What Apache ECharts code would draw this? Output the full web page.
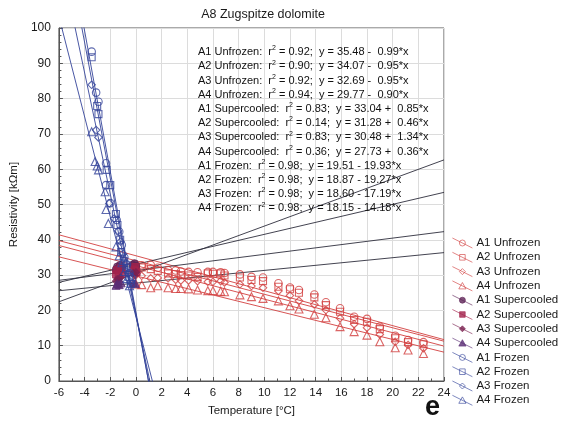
<!DOCTYPE html>
<html>
<head>
<meta charset="utf-8">
<script src="https://cdn.jsdelivr.net/npm/echarts/dist/echarts.min.js"></script>
<style>
  html, body { margin: 0; padding: 0; background: #fff; }
  #chart { width: 564px; height: 428px; }
</style>
</head>
<body>
<div id="chart"></div>
<script>
// Temperatures of the unfrozen measurements (°C)
const unfTemps = [0.0, 0.45, 1.15, 1.7, 2.5, 3.1, 3.5, 4.1, 4.8, 5.6, 6.0, 6.6, 6.9, 8.1, 9.0, 9.9,
  11.1, 12.0, 12.7, 13.9, 14.8, 15.9, 17.0, 18.0, 19.0, 20.2, 21.2, 22.4];
// Resistivity (kΩm) of the unfrozen samples
const a1Unf = [32.6, 32.8, 32.9, 32.1, 31.4, 31.3, 31.0, 30.9, 30.8, 30.9, 30.9, 30.8, 30.6, 30.2, 29.5, 29.3,
  27.7, 26.5, 25.8, 24.5, 22.3, 20.6, 18.2, 17.6, 15.4, 12.8, 11.6, 11.0];
const a2Unf = [32.0, 32.2, 31.7, 31.2, 30.5, 30.3, 30.0, 29.9, 29.5, 30.5, 30.4, 30.5, 29.9, 29.3, 28.6, 28.3,
  26.7, 26.0, 25.0, 23.7, 21.5, 19.6, 17.3, 16.8, 14.7, 12.1, 11.0, 10.4];
const a3Unf = [30.0, 29.8, 29.1, 29.2, 29.1, 28.7, 28.5, 28.5, 28.3, 28.1, 28.1, 28.3, 27.9, 27.4, 26.9, 26.4,
  25.5, 24.2, 22.7, 21.7, 20.1, 17.8, 16.1, 15.1, 13.2, 11.1, 10.2, 9.3];
const a4Unf = [27.5, 27.3, 26.4, 27.0, 26.4, 26.2, 26.2, 26.1, 25.8, 25.6, 25.6, 25.4, 25.3, 24.4, 23.9, 23.4,
  22.7, 21.3, 20.4, 18.9, 17.9, 15.4, 14.0, 13.0, 11.1, 9.4, 8.8, 7.8];

// Supercooled measurements [temperature, resistivity]
const a1Sup = [[-1.55, 31.6], [-1.45, 32.4], [-1.35, 31.9], [-1.25, 32.8], [-1.1, 32.1], [-0.25, 32.9], [-0.1, 33.3], [0.0, 32.6]];
const a2Sup = [[-1.55, 30.2], [-1.45, 31.4], [-1.35, 29.6], [-1.2, 31.9], [-1.05, 30.4], [-0.2, 31.6], [-0.05, 32.3], [0.05, 30.8]];
const a3Sup = [[-1.55, 28.3], [-1.45, 28.9], [-1.3, 28.0], [-1.2, 29.3], [-0.2, 30.6], [-0.1, 29.9], [0.0, 30.8]];
const a4Sup = [[-1.55, 27.1], [-1.45, 27.6], [-1.3, 27.3], [-1.15, 27.8], [-0.2, 27.9], [-0.05, 27.6]];

// Frozen measurements [temperature, resistivity]
const a1Frz = [[-3.45, 93.3], [-3.1, 81.7], [-2.92, 79.1], [-2.33, 61.7], [-2.33, 55.5], [-2.0, 50.4], [-1.5, 45.6],
  [-1.3, 42.3], [-1.1, 38.5], [-0.9, 35.0], [-0.7, 33.0], [-0.5, 30.5], [-0.3, 29.0]];
const a2Frz = [[-3.45, 91.7], [-3.02, 77.9], [-2.92, 75.6], [-2.28, 59.8], [-2.0, 55.5], [-1.56, 47.3], [-1.44, 44.2],
  [-1.23, 40.0], [-1.15, 36.5], [-0.95, 34.0], [-0.75, 32.0], [-0.55, 29.5], [-0.4, 27.5]];
const a3Frz = [[-3.45, 83.9], [-3.1, 71.1], [-2.92, 69.0], [-2.08, 50.3], [-1.7, 46.0], [-1.4, 42.5], [-1.2, 39.5],
  [-1.0, 36.0], [-0.8, 33.5], [-0.6, 30.5], [-0.4, 28.0]];
const a4Frz = [[-3.45, 70.6], [-3.18, 62.2], [-3.02, 60.9], [-2.92, 59.8], [-2.4, 53.6], [-2.33, 48.6], [-2.15, 44.6],
  [-1.56, 38.0], [-1.3, 35.5], [-1.1, 33.5], [-0.9, 31.0], [-0.7, 29.0], [-0.5, 27.0]];

// Linear fits: y = intercept + slope * x
const fitNames = ['A1 Unfrozen', 'A2 Unfrozen', 'A3 Unfrozen', 'A4 Unfrozen',
  'A1 Supercooled', 'A2 Supercooled', 'A3 Supercooled', 'A4 Supercooled',
  'A1 Frozen', 'A2 Frozen', 'A3 Frozen', 'A4 Frozen'];
const fitR2 = [0.92, 0.90, 0.92, 0.94, 0.83, 0.14, 0.83, 0.36, 0.98, 0.98, 0.98, 0.98];
const fitIntercept = [35.48, 34.07, 32.69, 29.77, 33.04, 31.28, 30.48, 27.73, 19.51, 18.87, 18.60, 18.15];
const fitSlope = [-0.99, -0.95, -0.95, -0.90, 0.85, 0.46, 1.34, 0.36, -19.93, -19.27, -17.19, -14.18];

const xRange = [-6, 24];
const yRange = [0, 100];

const RED = '#d23f3f';
const BLUE = '#34449a';
const SUP_LINE = '#2e2e3c';
const supColors = ['#5f2458', '#a3234c', '#7a2150', '#5a2d74'];

const shapes = ['circle', 'rect', 'diamond', 'triangle'];
const shapeSize = [7.5, 7, 7.5, 8];
const iconShapes = [
  'M13 5 A3 3 0 1 1 7 5 A3 3 0 1 1 13 5 Z',
  'M7.2 2.2 L12.8 2.2 L12.8 7.8 L7.2 7.8 Z',
  'M10 2 L13 5 L10 8 L7 5 Z',
  'M10 1.6 L13.6 8 L6.4 8 Z'
];
const icon = i => 'path://M0 0 L20 10 ' + iconShapes[i];

const unfValues = [a1Unf, a2Unf, a3Unf, a4Unf];
const supValues = [a1Sup, a2Sup, a3Sup, a4Sup];
const frzValues = [a1Frz, a2Frz, a3Frz, a4Frz];

const series = [];

// regression lines over the whole axis range (clipped by the grid)
fitNames.forEach((name, i) => {
  const group = Math.floor(i / 4);
  const color = group === 0 ? RED : group === 1 ? SUP_LINE : BLUE;
  series.push({
    name: name + ' fit',
    type: 'line',
    data: xRange.map(x => [x, fitIntercept[i] + fitSlope[i] * x]),
    showSymbol: false,
    symbol: 'none',
    clip: true,
    silent: true,
    lineStyle: { color: color, width: 0.9 },
    z: 2
  });
});

// unfrozen points (open, red)
unfValues.forEach((vals, k) => {
  series.push({
    name: fitNames[k],
    type: 'scatter',
    data: unfTemps.map((t, j) => [t, vals[j]]),
    symbol: shapes[k],
    symbolSize: shapeSize[k],
    itemStyle: { color: 'transparent', borderColor: RED, borderWidth: 1.1 },
    z: 3
  });
});

// supercooled points (filled)
supValues.forEach((vals, k) => {
  series.push({
    name: fitNames[4 + k],
    type: 'scatter',
    data: vals,
    symbol: shapes[k],
    symbolSize: shapeSize[k],
    itemStyle: { color: supColors[k], borderColor: supColors[k], borderWidth: 1 },
    z: 3
  });
});

// frozen points (open, blue)
frzValues.forEach((vals, k) => {
  series.push({
    name: fitNames[8 + k],
    type: 'scatter',
    data: vals,
    symbol: shapes[k],
    symbolSize: shapeSize[k],
    itemStyle: { color: 'transparent', borderColor: BLUE, borderWidth: 1.1 },
    z: 4
  });
});

// equation block
const fmt = v => v.toFixed(2);
const eqLines = fitNames.map((name, i) => {
  const s = fitSlope[i];
  const sign = s < 0 ? '-' : '+';
  const mag = fmt(Math.abs(s)).padStart(5, ' ');
  return '{t|' + name + ':  r}{s|2}{t| = ' + fmt(fitR2[i]) + ';  y = ' + fmt(fitIntercept[i]) +
    ' ' + sign + ' ' + mag + '*x}';
});

const FONT = 'Arial, "Liberation Sans", Helvetica, sans-serif';

const chart = echarts.init(document.getElementById('chart'), null, { renderer: 'canvas' });
chart.setOption({
  animation: false,
  backgroundColor: '#fff',
  textStyle: { fontFamily: FONT },
  title: {
    text: 'A8 Zugspitze dolomite',
    left: 258,
    top: 3,
    textAlign: 'center',
    textStyle: { fontFamily: FONT, fontSize: 12.5, fontWeight: 'normal', color: '#1a1a1a' }
  },
  grid: { left: 54, right: 120, top: 28, bottom: 47, show: true, borderColor: '#555', borderWidth: 1 },
  xAxis: {
    type: 'value',
    min: xRange[0], max: xRange[1], interval: 2,
    name: 'Temperature [°C]',
    nameLocation: 'middle',
    nameGap: 24,
    nameTextStyle: { fontFamily: FONT, fontSize: 11.5, color: '#1a1a1a' },
    axisLine: { onZero: false, lineStyle: { color: '#555', width: 1 } },
    axisTick: { inside: true, length: 4, lineStyle: { color: '#555' } },
    minorTick: { show: true, splitNumber: 2, length: 2.5, lineStyle: { color: '#555' } },
    splitLine: { show: true, lineStyle: { color: '#dcdcdc', width: 1 } },
    axisLabel: { fontFamily: FONT, fontSize: 11.5, color: '#1a1a1a', margin: 6 }
  },
  yAxis: {
    type: 'value',
    min: yRange[0], max: yRange[1], interval: 10,
    name: 'Resistivity [kΩm]',
    nameLocation: 'middle',
    nameGap: 29,
    nameTextStyle: { fontFamily: FONT, fontSize: 11.5, color: '#1a1a1a' },
    axisLine: { show: true, onZero: false, lineStyle: { color: '#555', width: 1 } },
    axisTick: { show: true, inside: true, length: 4, lineStyle: { color: '#555' } },
    minorTick: { show: true, splitNumber: 5, length: 2.5, lineStyle: { color: '#555' } },
    splitLine: { show: true, lineStyle: { color: '#dcdcdc', width: 1 } },
    axisLabel: { fontFamily: FONT, fontSize: 12, color: '#1a1a1a', margin: 8 }
  },
  legend: {
    orient: 'vertical',
    left: 452,
    top: 237,
    height: 185,
    padding: 0,
    itemWidth: 20,
    itemHeight: 10,
    itemGap: 2.3,
    itemStyle: { borderWidth: 0.8 },
    textStyle: { fontFamily: FONT, fontSize: 11.5, lineHeight: 10, color: '#1a1a1a', padding: [0, 0, 0, -1] },
    data: fitNames.map((n, i) => ({ name: n, icon: icon(i % 4) }))
  },
  graphic: [
    {
      type: 'text',
      left: 198,
      top: 45,
      z: 10,
      style: {
        text: eqLines.join('\n'),
        rich: {
          t: { fontFamily: FONT, fontSize: 11, lineHeight: 14.2, fill: '#111' },
          s: { fontFamily: FONT, fontSize: 7, lineHeight: 14.2, verticalAlign: 'top', fill: '#111' }
        }
      }
    },
    {
      type: 'text',
      left: 425,
      top: 394,
      style: { text: 'e', fontFamily: FONT, fontSize: 27, fontWeight: 'bold', fill: '#111' }
    }
  ],
  series: series
});
</script>
</body>
</html>
